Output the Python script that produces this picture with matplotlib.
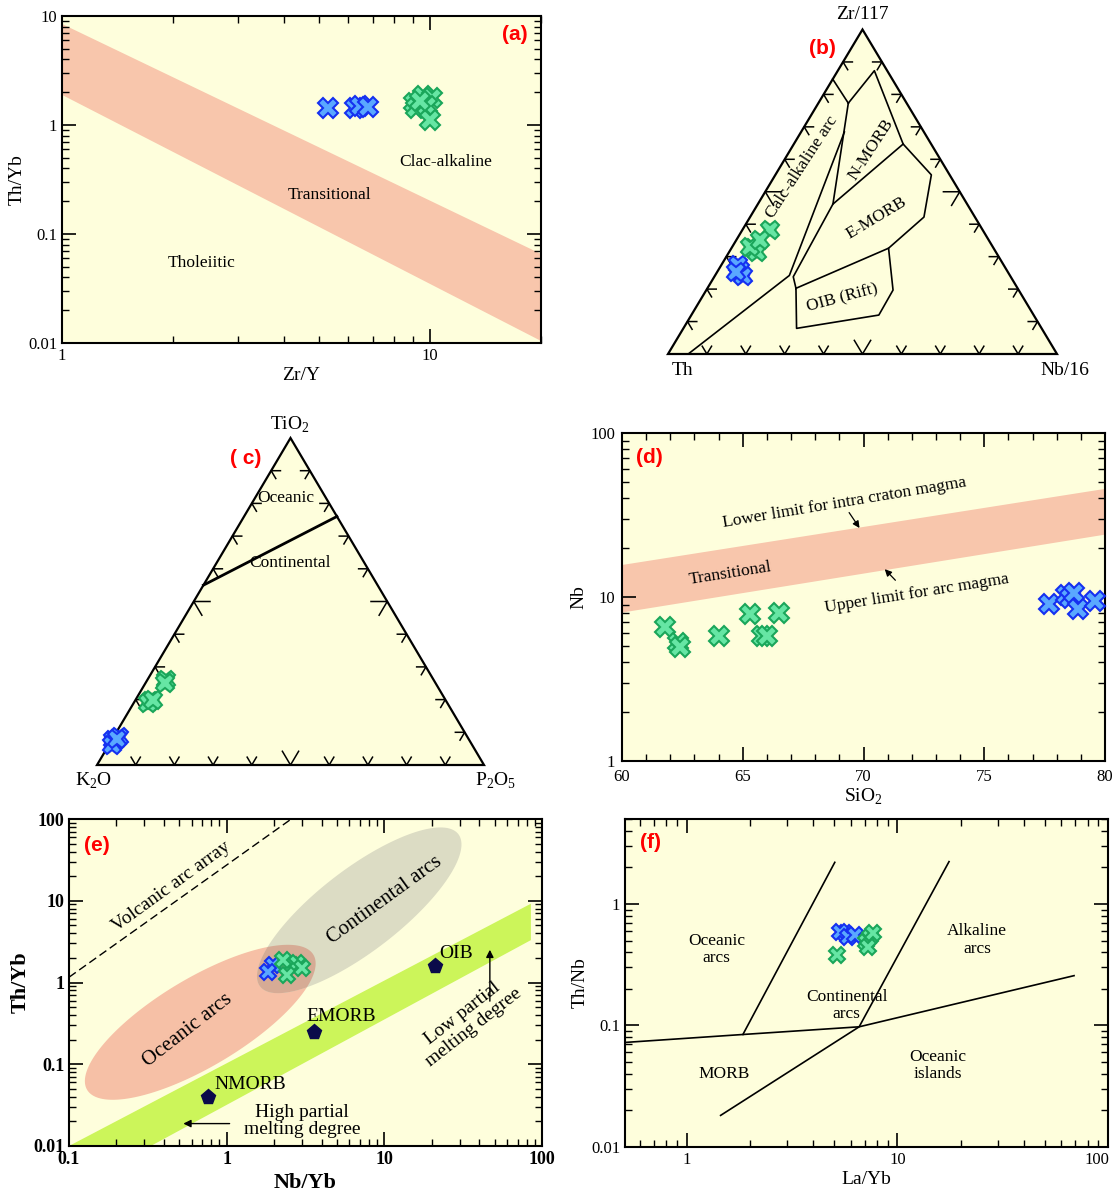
import numpy as np
import matplotlib.pyplot as plt
from matplotlib.patches import Polygon
from matplotlib.transforms import ScaledTranslation
from matplotlib.ticker import FuncFormatter, NullFormatter, MultipleLocator, LogLocator

plt.rcParams['font.family'] = ['Liberation Serif', 'DejaVu Serif']
plt.rcParams['mathtext.fontset'] = 'custom'
plt.rcParams['mathtext.rm'] = 'Liberation Serif'
plt.rcParams['mathtext.bf'] = 'Liberation Serif:bold'

BG = '#fefedc'
SALMON = '#f8c6ac'
BLUE_FACE, BLUE_EDGE = '#5aa8ff', '#1530f0'
GREEN_FACE, GREEN_EDGE = '#66e6a4', '#1aa65a'
W, H = 1116, 1198

# ---- (a) Zr/Y vs Th/Yb
a_blue_zry = [5.27, 6.26, 6.43, 6.77]
a_blue_thyb = [1.44, 1.44, 1.5, 1.47]
a_green_zry = [9.06, 9.58, 10.1, 9.16, 9.8, 10.0, 9.38]
a_green_thyb = [1.6, 1.84, 1.77, 1.44, 1.49, 1.12, 1.66]
a_band_x = [1, 20]
a_band_top = [8.5, 0.066]
a_band_bot = [1.9, 0.0105]

# ---- (b) Th - Zr/117 - Nb/16 (Th, Zr, Nb fractions)
b_blue = [(0.685, 0.259, 0.056), (0.683, 0.274, 0.043), (0.687, 0.240, 0.073), (0.699, 0.253, 0.048)]
b_green = [(0.547, 0.382, 0.071), (0.618, 0.327, 0.055), (0.614, 0.314, 0.072),
           (0.624, 0.330, 0.046), (0.588, 0.351, 0.061)]
b_lines = [
    [(0.153, 0.847, 0.0), (0.150, 0.773, 0.077)],
    [(0.150, 0.773, 0.077), (0.033, 0.873, 0.094), (0.072, 0.647, 0.281), (0.047, 0.552, 0.401),
     (0.131, 0.422, 0.447), (0.270, 0.326, 0.404)],
    [(0.150, 0.773, 0.077), (0.345, 0.462, 0.193), (0.559, 0.238, 0.203), (0.570, 0.2025, 0.2278),
     (0.630, 0.079, 0.291), (0.398, 0.120, 0.482), (0.323, 0.197, 0.480), (0.270, 0.326, 0.404),
     (0.570, 0.2025, 0.2278)],
    [(0.072, 0.647, 0.281), (0.345, 0.462, 0.193)],
    [(0.2045, 0.684, 0.1114), (0.567, 0.242, 0.191), (0.948, 0.0, 0.052)],
]

# ---- (c) K2O - TiO2 - P2O5
c_blue = [(0.92, 0.07, 0.01), (0.92, 0.075, 0.005), (0.90, 0.085, 0.015), (0.932, 0.06, 0.008), (0.908, 0.08, 0.012)]
c_green = [(0.692, 0.26, 0.048), (0.765, 0.195, 0.04), (0.773, 0.19, 0.037), (0.755, 0.2, 0.045), (0.70, 0.25, 0.05)]
c_line = [(0.45, 0.55, 0.0), (0.0, 0.76, 0.24)]

# ---- (d) SiO2 vs Nb
d_green_si = [61.8, 62.3, 62.4, 64.0, 65.3, 65.8, 66.0, 66.5]
d_green_nb = [6.55, 5.25, 4.95, 5.82, 7.9, 5.82, 5.82, 7.98]
d_blue_si = [77.7, 78.4, 78.55, 78.7, 78.9, 79.6]
d_blue_nb = [9.1, 10.3, 9.8, 10.6, 8.5, 9.4]
d_band_x = [60, 80]
d_band_top = [15.8, 46]
d_band_bot = [8.1, 24.2]

# ---- (e) Nb/Yb vs Th/Yb
e_blue_nbyb = [1.98, 1.83]
e_blue_thyb = [1.62, 1.33]
e_green_nbyb = [2.59, 2.79, 2.4, 3.0, 2.28]
e_green_thyb = [1.62, 1.71, 1.22, 1.49, 1.86]
e_ref_names = ['NMORB', 'EMORB', 'OIB']
e_ref_nbyb = [0.76, 3.6, 21]
e_ref_thyb = [0.04, 0.25, 1.6]
e_arc_array = ([0.1, 2.57], [1.16, 100])
e_mantle_top = ([0.1, 85], [0.01, 9.2])
e_mantle_bot = ([0.33, 85], [0.01, 3.3])
# ellipse: centre, end of major half-axis, end of minor half-axis
e_oceanic = [(0.68, 0.326), (3.52, 2.24), (0.984, 0.117)]
e_continental = [(6.93, 7.64), (29.2, 66.7), (10.35, 3.21)]

# ---- (f) La/Yb vs Th/Nb
f_blue_layb = [5.63, 5.34, 5.84, 6.29]
f_blue_thnb = [0.574, 0.592, 0.539, 0.556]
f_green_layb = [7.4, 7.14, 7.68, 7.27, 5.15]
f_green_thnb = [0.539, 0.49, 0.574, 0.446, 0.381]
f_lines = [
    ([0.51, 1.85, 6.59, 69], [0.0725, 0.0843, 0.0975, 0.257]),
    ([1.85, 5.05], [0.0843, 2.2]),
    ([1.45, 6.59, 17.6], [0.0182, 0.0975, 2.23]),
]


def px_axes(fig, l, t, r, b):
    return fig.add_axes([l / W, 1 - b / H, (r - l) / W, (b - t) / H])


def gfmt(v, p):
    return f'{v:g}'


def style_axes(ax, fs=12, bold=False):
    ax.set_facecolor(BG)
    ax.tick_params(which='both', direction='in', top=True, right=True, labelsize=fs)
    ax.tick_params(which='major', length=10, width=1.2)
    ax.tick_params(which='minor', length=5, width=1)
    for s in ax.spines.values():
        s.set_linewidth(1.5)
    if bold:
        for lab in ax.get_xticklabels() + ax.get_yticklabels():
            lab.set_fontweight('bold')


def log_fmt(axis):
    axis.set_major_formatter(FuncFormatter(gfmt))
    axis.set_minor_formatter(NullFormatter())
    axis.set_minor_locator(LogLocator(base=10, subs=np.arange(2, 10)))


def xmarks(ax, x, y, face, edge, ms=14):
    ax.plot(x, y, 'X', ms=ms, mfc=face, mec=edge, mew=1.5, ls='none', zorder=5, clip_on=False)


def panel_label(ax, txt, x, y):
    ax.text(x, y, txt, transform=ax.transAxes, color='red', fontsize=15, fontweight='bold',
            family=['Liberation Sans', 'DejaVu Sans'], ha='center', va='center')


def tern_xy(pts):
    pts = np.asarray(pts, dtype=float)
    s = pts.sum(axis=1)
    top = pts[:, 1] / s
    right = pts[:, 2] / s
    return right + top / 2, top


def ternary_frame(ax):
    ax.set_xlim(0, 1)
    ax.set_ylim(0, 1)
    ax.axis('off')
    ax.add_patch(Polygon([(0, 0), (1, 0), (0.5, 1)], closed=True, fc=BG, ec='black', lw=1.6,
                         clip_on=False, zorder=1))
    for i in range(1, 10):
        t = i / 10
        L = 0.042 if i == 5 else 0.024
        for p, d1, d2 in [((t, 0), (0.5, 1), (-0.5, 1)),
                          ((t / 2, t), (1, 0), (0.5, -1)),
                          ((1 - t / 2, t), (-1, 0), (-0.5, -1))]:
            ax.plot([p[0] + L * d1[0], p[0], p[0] + L * d2[0]],
                    [p[1] + L * d1[1], p[1], p[1] + L * d2[1]], color='black', lw=1.1, zorder=2)


def ellipse_pts(spec, n=200):
    c, a, b = [np.log10(np.asarray(p)) for p in spec]
    A, B = a - c, b - c
    t = np.linspace(0, 2 * np.pi, n)
    lx = c[0] + np.cos(t) * A[0] + np.sin(t) * B[0]
    ly = c[1] + np.cos(t) * A[1] + np.sin(t) * B[1]
    return np.column_stack([10 ** lx, 10 ** ly])


fig = plt.figure(figsize=(W / 100, H / 100), dpi=100)

# ================= (a)
ax = px_axes(fig, 62, 16, 541, 343)
ax.set_xscale('log')
ax.set_yscale('log')
ax.set_xlim(1, 20)
ax.set_ylim(0.01, 10)
ax.fill_between(a_band_x, a_band_bot, a_band_top, color=SALMON, lw=0)
xmarks(ax, a_blue_zry, a_blue_thyb, BLUE_FACE, BLUE_EDGE)
xmarks(ax, a_green_zry, a_green_thyb, GREEN_FACE, GREEN_EDGE)
ax.text(11, 0.46, 'Clac-alkaline', fontsize=12.5, ha='center', va='center')
ax.text(5.34, 0.23, 'Transitional', fontsize=12.5, ha='center', va='center')
ax.text(2.4, 0.054, 'Tholeiitic', fontsize=12.5, ha='center', va='center')
log_fmt(ax.xaxis)
log_fmt(ax.yaxis)
style_axes(ax)
ax.set_xlabel('Zr/Y', fontsize=14, labelpad=2)
ax.set_ylabel('Th/Yb', fontsize=14, labelpad=2)
panel_label(ax, '(a)', 0.946, 0.942)

# ================= (b)
ax = px_axes(fig, 668, 29.5, 1057, 354)
ternary_frame(ax)
for ln in b_lines:
    x, y = tern_xy(ln)
    ax.plot(x, y, color='black', lw=1.2, zorder=3)
x, y = tern_xy(b_blue)
xmarks(ax, x, y, BLUE_FACE, BLUE_EDGE, ms=13)
x, y = tern_xy(b_green)
xmarks(ax, x, y, GREEN_FACE, GREEN_EDGE, ms=13)
ax.text(0.345, 0.575, 'Calc-alkaline arc', rotation=57, fontsize=12.5, ha='center', va='center')
ax.text(0.521, 0.63, 'N-MORB', rotation=57, fontsize=12.5, ha='center', va='center')
ax.text(0.535, 0.42, 'E-MORB', rotation=31, fontsize=12.5, ha='center', va='center')
ax.text(0.447, 0.172, 'OIB (Rift)', rotation=15, fontsize=12.5, ha='center', va='center')
ax.text(0.499, 1.045, 'Zr/117', fontsize=14, ha='center', va='center')
ax.text(0.036, -0.05, 'Th', fontsize=14, ha='center', va='center')
ax.text(1.02, -0.05, 'Nb/16', fontsize=14, ha='center', va='center')
panel_label(ax, '(b)', 0.396, 0.94)

# ================= (c)
ax = px_axes(fig, 97, 438, 484, 765)
ternary_frame(ax)
x, y = tern_xy(c_line)
ax.plot(x, y, color='black', lw=2, zorder=3)
x, y = tern_xy(c_blue)
xmarks(ax, x, y, BLUE_FACE, BLUE_EDGE, ms=13)
x, y = tern_xy(c_green)
xmarks(ax, x, y, GREEN_FACE, GREEN_EDGE, ms=13)
ax.text(0.488, 0.815, 'Oceanic', fontsize=12.5, ha='center', va='center')
ax.text(0.499, 0.618, 'Continental', fontsize=12.5, ha='center', va='center')
ax.text(0.499, 1.04, 'TiO$_2$', fontsize=14, ha='center', va='center')
ax.text(-0.01, -0.048, 'K$_2$O', fontsize=14, ha='center', va='center')
ax.text(1.03, -0.048, 'P$_2$O$_5$', fontsize=14, ha='center', va='center')
panel_label(ax, '( c)', 0.385, 0.936)

# ================= (d)
ax = px_axes(fig, 622, 433, 1105, 761)
ax.set_yscale('log')
ax.set_xlim(60, 80)
ax.set_ylim(1, 100)
ax.fill_between(d_band_x, d_band_bot, d_band_top, color=SALMON, lw=0)
xmarks(ax, d_green_si, d_green_nb, GREEN_FACE, GREEN_EDGE)
xmarks(ax, d_blue_si, d_blue_nb, BLUE_FACE, BLUE_EDGE)
ax.text(69.2, 37.8, 'Lower limit for intra craton magma', rotation=9.5, fontsize=12.5, ha='center', va='center')
ax.text(64.5, 14.0, 'Transitional', rotation=9, fontsize=12.5, ha='center', va='center')
ax.text(72.2, 10.5, 'Upper limit for arc magma', rotation=9, fontsize=12.5, ha='center', va='center')
ax.annotate('', xy=(69.9, 25.5), xytext=(69.34, 33.8),
            arrowprops=dict(arrowstyle='-|>', color='black', lw=0.9, mutation_scale=10))
ax.annotate('', xy=(70.8, 15.2), xytext=(71.4, 12.3),
            arrowprops=dict(arrowstyle='-|>', color='black', lw=0.9, mutation_scale=10))
ax.xaxis.set_major_locator(MultipleLocator(5))
ax.xaxis.set_minor_locator(MultipleLocator(1))
log_fmt(ax.yaxis)
style_axes(ax)
ax.tick_params(axis='x', which='major', pad=6)
ax.tick_params(axis='y', which='major', pad=5)
ax.set_xlabel('SiO$_2$', fontsize=14, labelpad=1)
ax.set_ylabel('Nb', fontsize=14, labelpad=2)
panel_label(ax, '(d)', 0.056, 0.924)

# ================= (e)
ax = px_axes(fig, 69, 819, 542, 1146)
ax.set_xscale('log')
ax.set_yscale('log')
ax.set_xlim(0.1, 100)
ax.set_ylim(0.01, 100)
mx = list(e_mantle_top[0]) + list(e_mantle_bot[0])[::-1]
my = list(e_mantle_top[1]) + list(e_mantle_bot[1])[::-1]
ax.add_patch(Polygon(np.column_stack([mx, my]), closed=True, fc='#ccf55a', ec='none', zorder=1))
oce = Polygon(ellipse_pts(e_oceanic), closed=True, fc='#f6c0a6', ec='none', zorder=1)
con = Polygon(ellipse_pts(e_continental), closed=True, fc='#dcdcc4', ec='none', zorder=1.1)
ax.add_patch(oce)
ax.add_patch(con)
ovl = Polygon(ellipse_pts(e_oceanic), closed=True, fc='#d6ab95', ec='none', zorder=1.2)
ax.add_patch(ovl)
ovl.set_clip_path(con)
ax.plot(*e_arc_array, color='black', lw=1, ls=(0, (6, 3)))
ax.plot(e_ref_nbyb, e_ref_thyb, 'p', ms=11, color='#0a0a4a', zorder=4)
for nm, xv, yv in zip(e_ref_names, [1.41, 5.35, 28.4], [0.057, 0.383, 2.29]):
    ax.text(xv, yv, nm, fontsize=14, ha='center', va='center')
xmarks(ax, e_blue_nbyb, e_blue_thyb, BLUE_FACE, BLUE_EDGE, ms=12)
xmarks(ax, e_green_nbyb, e_green_thyb, GREEN_FACE, GREEN_EDGE, ms=12)
ax.text(0.448, 14.8, 'Volcanic arc array', rotation=36, fontsize=14, ha='center', va='center')
ax.text(0.566, 0.258, 'Oceanic arcs', rotation=38, fontsize=15, ha='center', va='center')
ax.text(10.0, 10.1, 'Continental arcs', rotation=36, fontsize=15, ha='center', va='center')
ax.text(34, 0.342, 'Low partial\nmelting degree', rotation=38, fontsize=14, ha='center', va='center',
        linespacing=1.0)
ax.text(3.0, 0.0205, 'High partial\nmelting degree', fontsize=14, ha='center', va='center', linespacing=1.0)
ax.annotate('', xy=(46.7, 2.72), xytext=(46.7, 0.547),
            arrowprops=dict(arrowstyle='-|>', color='black', lw=1, mutation_scale=11))
ax.annotate('', xy=(0.51, 0.0188), xytext=(1.087, 0.0188),
            arrowprops=dict(arrowstyle='-|>', color='black', lw=1, mutation_scale=11))
log_fmt(ax.xaxis)
log_fmt(ax.yaxis)
style_axes(ax, fs=13, bold=True)
ax.set_xlabel('Nb/Yb', fontsize=16, fontweight='bold', labelpad=4)
ax.set_ylabel('Th/Yb', fontsize=16, fontweight='bold', labelpad=2)
panel_label(ax, '(e)', 0.058, 0.92)

# ================= (f)
ax = px_axes(fig, 625, 819, 1108, 1147)
ax.set_xscale('log')
ax.set_yscale('log')
ax.set_xlim(0.51, 100)
ax.set_ylim(0.01, 5)
for lx, ly in f_lines:
    ax.plot(lx, ly, color='black', lw=1.2)
xmarks(ax, f_blue_layb, f_blue_thnb, BLUE_FACE, BLUE_EDGE, ms=12)
xmarks(ax, f_green_layb, f_green_thnb, GREEN_FACE, GREEN_EDGE, ms=12)
for txt, xv, yv in [('Oceanic\narcs', 1.39, 0.423), ('Continental\narcs', 5.75, 0.145),
                    ('Alkaline\narcs', 23.9, 0.505), ('MORB', 1.51, 0.0397),
                    ('Oceanic\nislands', 15.5, 0.0465)]:
    ax.text(xv, yv, txt, fontsize=12.5, ha='center', va='center', linespacing=1.1)
log_fmt(ax.yaxis)
ax.set_xticks([1, 10, 100])
ax.set_xticklabels(['1', '10', '100'])
ax.xaxis.set_minor_locator(LogLocator(base=10, subs=np.arange(2, 10)))
ax.xaxis.set_minor_formatter(NullFormatter())
style_axes(ax)
lab = ax.get_xticklabels()[-1]
lab.set_transform(lab.get_transform() + ScaledTranslation(-8 / 72, 0, fig.dpi_scale_trans))
ax.set_xlabel('La/Yb', fontsize=14, labelpad=2)
ax.set_ylabel('Th/Nb', fontsize=14, labelpad=2)
panel_label(ax, '(f)', 0.052, 0.927)

fig.savefig('out.png', dpi=100, facecolor='white')
